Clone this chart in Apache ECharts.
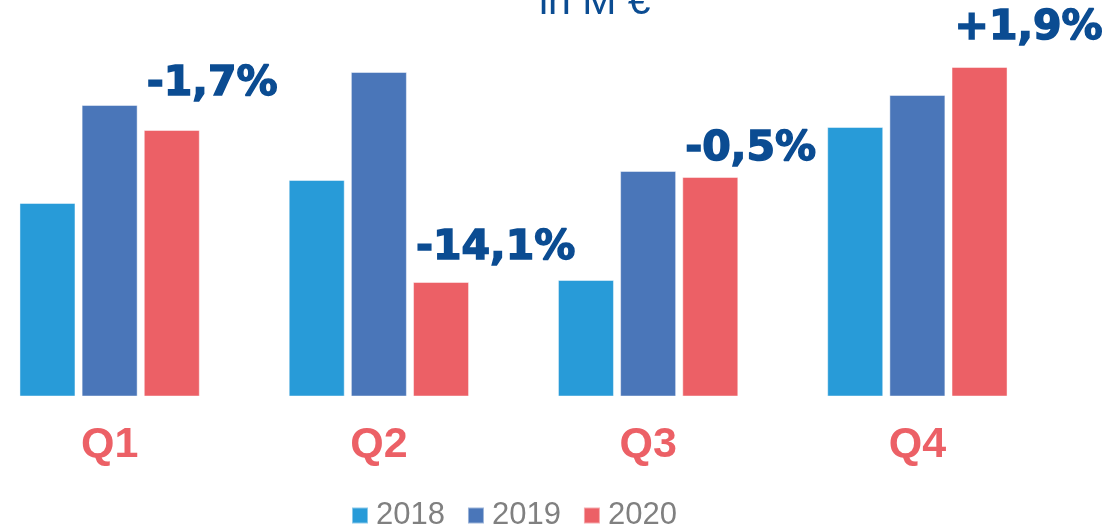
<!DOCTYPE html>
<html>
<head>
<meta charset="utf-8">
<script src="https://cdn.jsdelivr.net/npm/echarts@6/dist/echarts.min.js"></script>
<style>
  html, body { margin: 0; padding: 0; background: #fff; overflow: hidden; }
  /* the first quarter is partly cut off on the left, so the canvas starts off-screen */
  #chart { width: 1141px; height: 528px; margin-left: -25px; }
</style>
</head>
<body>
<div id="chart"></div>
<script>
  // quarterly values, in M €
  var categories = ['Q1', 'Q2', 'Q3', 'Q4'];
  var years = ['2018', '2019', '2020'];
  var values2018 = [1363, 1386, 1286, 1439];
  var values2019 = [1461, 1494, 1395, 1471];
  var values2020 = [1436, 1284, 1389, 1499];
  var changeLabels = ['-1,7%', '-14,1%', '-0,5%', '+1,9%'];

  var colors = ['#289BD8', '#4A76B9', '#EC6066'];
  // how far above the 2020 bar each change label sits
  var labelLift = [46, 34, 28, 39];

  var chart = echarts.init(document.getElementById('chart'));

  function barSeries(name, data, color) {
    return {
      name: name,
      type: 'bar',
      barWidth: 56,
      barGap: '11%',
      data: data,
      itemStyle: {
        color: color,
        borderColor: 'rgba(255,255,255,0.45)',
        borderWidth: 1
      }
    };
  }

  var s2020 = barSeries(years[2], values2020.map(function (v, i) {
    return {
      value: v,
      label: {
        show: true,
        formatter: changeLabels[i],
        position: [3, -labelLift[i]],
        align: 'left',
        verticalAlign: 'middle'
      }
    };
  }), colors[2]);
  s2020.label = {
    fontFamily: 'DejaVu Sans',
    fontWeight: 'bold',
    fontSize: 41,
    color: '#0B4C92',
    textBorderColor: '#0B4C92',
    textBorderWidth: 1.5
  };

  var option = {
    animation: false,
    title: {
      text: 'in M €',
      left: 564,
      top: -18,
      padding: 0,
      textStyle: {
        fontFamily: 'Liberation Sans',
        fontWeight: 'normal',
        fontSize: 41,
        color: '#0B4C92'
      }
    },
    legend: {
      data: years,
      left: 376,
      top: 500,
      padding: 0,
      icon: 'rect',
      itemWidth: 16,
      itemHeight: 16,
      itemGap: 22,
      textStyle: {
        fontFamily: 'Liberation Sans',
        fontSize: 31,
        color: '#808080',
        padding: [0, 0, 0, 3]
      }
    },
    grid: {
      left: 0,
      right: 64,
      top: 36,
      bottom: 132
    },
    xAxis: {
      type: 'category',
      data: categories,
      axisLine: { show: false },
      axisTick: { show: false },
      axisLabel: {
        margin: 28,
        fontFamily: 'Liberation Sans',
        fontWeight: 'bold',
        fontSize: 43,
        color: '#EC6066'
      }
    },
    yAxis: {
      type: 'value',
      min: 1170,
      max: 1530,
      show: false,
      splitLine: { show: false }
    },
    series: [
      barSeries(years[0], values2018, colors[0]),
      barSeries(years[1], values2019, colors[1]),
      s2020
    ]
  };

  chart.setOption(option);
</script>
</body>
</html>
